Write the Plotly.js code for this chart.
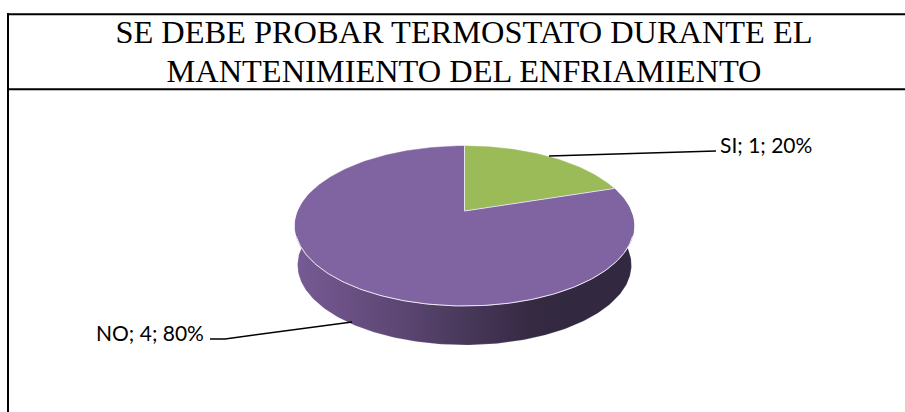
<!DOCTYPE html>
<html>
<head>
<meta charset="utf-8">
<script src="https://cdn.plot.ly/plotly-3.0.1.min.js"></script>
<style>html,body{margin:0;padding:0;background:#fff;overflow:hidden}#chart{width:905px;height:412px}</style>
</head>
<body>
<div id="chart"></div>
<script>
// Data
var categories = ['SI', 'NO'];
var values = [1, 4];
var sliceColors = ['#9BBB59', '#8064A2'];
var titleLines = ['SE DEBE PROBAR TERMOSTATO DURANTE EL', 'MANTENIMIENTO DEL ENFRIAMIENTO'];

var total = values.reduce(function (a, b) { return a + b; }, 0);
var labels = categories.map(function (c, i) {
  return c + '; ' + values[i] + '; ' + Math.round(values[i] / total * 100) + '%';
});

// Tilted-disc view of the pie: a circle seen in perspective
var view = { cx: 464.5, apexY: 211, k: 166.5, a: -37.6, c: 0.1875, depth: 39, baseScale: 0.985 };
function project(turn, drop) {
  var t = turn * 2 * Math.PI, u = Math.sin(t), v = Math.cos(t), d = view.c * v + 1;
  var s = drop ? view.baseScale : 1;
  return [view.cx + s * view.k * u / d, (view.a * v + view.apexY) / d + (drop ? view.depth : 0)];
}
function arc(from, to, drop) {
  var pts = [], n = Math.max(2, Math.ceil((to - from) * 360));
  for (var i = 0; i <= n; i++) pts.push(project(from + (to - from) * i / n, drop));
  return pts;
}
function xs(pts) { return pts.map(function (p) { return p[0]; }); }
function ys(pts) { return pts.map(function (p) { return p[1]; }); }

var traces = [];

// Side wall: the near half of the rim
var wallFrom = 0.2, wallTo = 0.8;
var wall = arc(wallFrom, wallTo, false).concat(arc(wallFrom, wallTo, true).reverse());
wall.push(wall[0]);
traces.push({
  type: 'scatter', mode: 'lines', showlegend: false, hoverinfo: 'skip',
  x: xs(wall), y: ys(wall),
  fill: 'toself',
  fillgradient: {
    type: 'horizontal', start: 296, stop: 634,
    colorscale: [[0, '#755b94'], [0.15, '#6a5084'], [0.31, '#5c4673'], [0.48, '#4a3a5c'],
                 [0.6, '#3f304f'], [0.7, '#352a42'], [0.8, '#322840'], [1, '#322840']]
  },
  line: { color: 'rgba(240,236,245,0.35)', width: 0.5 }
});

// Top face: one wedge per category
var cum = 0;
values.forEach(function (val, i) {
  var from = cum / total, to = (cum + val) / total;
  cum += val;
  var pts = [[view.cx, view.apexY]].concat(arc(from, to, false));
  pts.push(pts[0]);
  traces.push({
    type: 'scatter', mode: 'lines', name: categories[i], showlegend: false,
    x: xs(pts), y: ys(pts),
    fill: 'toself', fillcolor: sliceColors[i],
    line: { color: sliceColors[i], width: 0.5 },
    text: labels[i], hoverinfo: 'text'
  });
});
var spokes = [project(0, false), [view.cx, view.apexY], project(values[0] / total, false)];

// Light highlight on the spokes and on the front edge of the rim
traces.push({ type: 'scatter', mode: 'lines', showlegend: false, hoverinfo: 'skip',
  x: xs(spokes), y: ys(spokes), line: { color: '#e8e4ee', width: 1 } });
var rim = arc(0.3, 0.7, false);
traces.push({ type: 'scatter', mode: 'lines', showlegend: false, hoverinfo: 'skip',
  x: xs(rim), y: ys(rim), line: { color: '#eeeaf2', width: 1 } });

// Leader lines
var leaderX = [[549, 716], [352, 225, 210]];
var leaderY = [[156, 151], [322, 339, 339]];
leaderX.forEach(function (lx, i) {
  traces.push({
    type: 'scatter', mode: 'lines', showlegend: false, hoverinfo: 'skip',
    x: lx, y: leaderY[i], line: { color: '#000', width: 1.5 }
  });
});

var layout = {
  width: 905, height: 412,
  margin: { l: 0, r: 0, t: 0, b: 0 },
  paper_bgcolor: '#fff', plot_bgcolor: '#fff',
  showlegend: false,
  title: {
    text: titleLines.map(function (t) { return '<span style="font-size:32.4px">' + t + '</span>'; }).join('<br>'),
    font: { family: '"Liberation Serif", serif', size: 30, color: '#000' },
    xref: 'paper', yref: 'paper', x: 464 / 905, xanchor: 'center',
    y: 1 - 43 / 412, yanchor: 'middle', pad: { t: 0, b: 0, l: 0, r: 0 }
  },
  xaxis: { range: [0, 905], visible: false, fixedrange: true },
  yaxis: { range: [412, 0], visible: false, fixedrange: true },
  shapes: [
    { type: 'line', xref: 'x', yref: 'y', x0: 7, x1: 905, y0: 14.3, y1: 14.3, line: { color: '#000', width: 2 } },
    { type: 'line', xref: 'x', yref: 'y', x0: 7, x1: 905, y0: 89.3, y1: 89.3, line: { color: '#000', width: 2 } },
    { type: 'line', xref: 'x', yref: 'y', x0: 8, x1: 8, y0: 13.3, y1: 412, line: { color: '#000', width: 2 } }
  ],
  annotations: [
    { xref: 'x', yref: 'y', x: 718, y: 144.5, xanchor: 'left', yanchor: 'middle', text: labels[0], showarrow: false,
      font: { family: 'Lato, sans-serif', size: 21, color: '#000' } },
    { xref: 'x', yref: 'y', x: 206, y: 332, xanchor: 'right', yanchor: 'middle', text: labels[1], showarrow: false,
      font: { family: 'Lato, sans-serif', size: 21, color: '#000' } }
  ]
};

Plotly.newPlot('chart', traces, layout, { displayModeBar: false });
</script>
</body>
</html>
